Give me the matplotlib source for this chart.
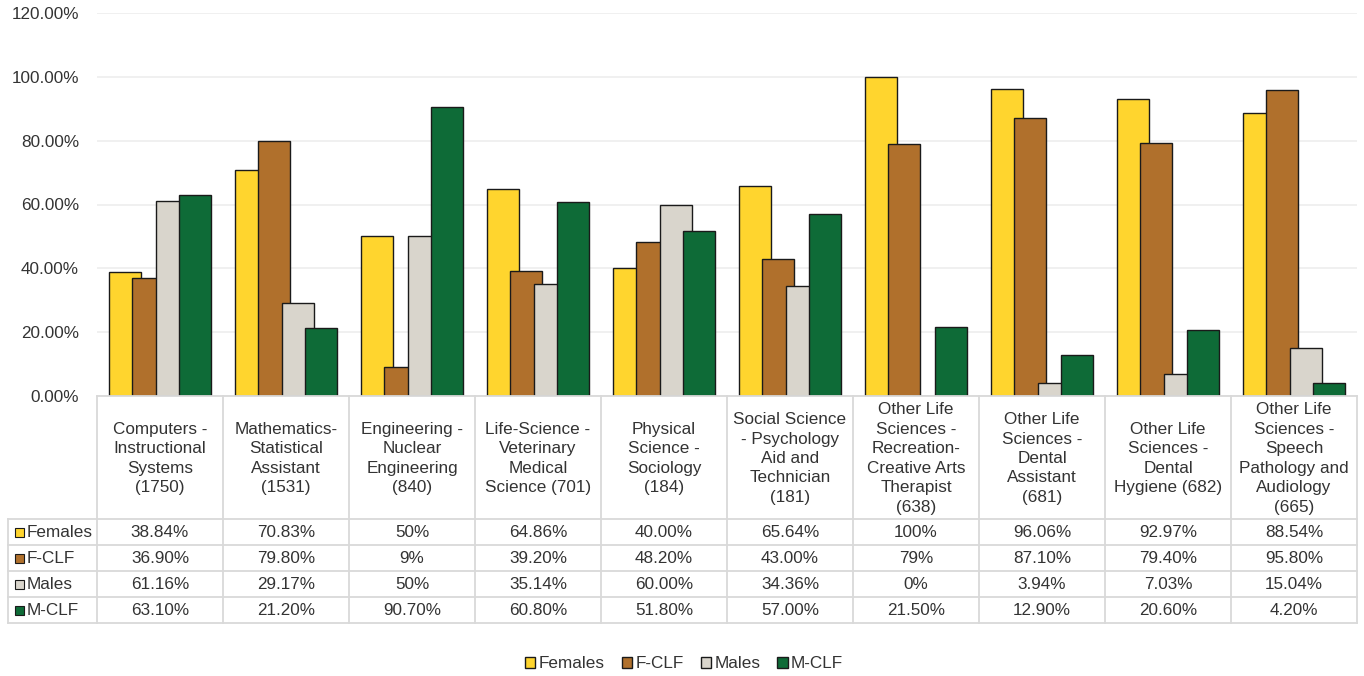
import matplotlib
matplotlib.use('Agg')
import matplotlib.pyplot as plt
from matplotlib.patches import Rectangle
import numpy as np

plt.rcParams['font.family'] = ['Liberation Sans', 'DejaVu Sans']

# categories (column headers of the data table)
categories = [
    'Computers -\nInstructional\nSystems\n(1750)',
    'Mathematics-\nStatistical\nAssistant\n(1531)',
    'Engineering -\nNuclear\nEngineering\n(840)',
    'Life-Science -\nVeterinary\nMedical\nScience (701)',
    'Physical\nScience -\nSociology\n(184)',
    'Social Science\n- Psychology\nAid and\nTechnician\n(181)',
    'Other Life\nSciences -\nRecreation-\nCreative Arts\nTherapist\n(638)',
    'Other Life\nSciences -\nDental\nAssistant\n(681)',
    'Other Life\nSciences -\nDental\nHygiene (682)',
    'Other Life\nSciences -\nSpeech\nPathology and\nAudiology\n(665)',
]

series_names = ['Females', 'F-CLF', 'Males', 'M-CLF']
series_colors = ['#FFD52E', '#B0702C', '#D9D5CC', '#0E6B37']

females = [38.84, 70.83, 50, 64.86, 40.00, 65.64, 100, 96.06, 92.97, 88.54]
f_clf = [36.90, 79.80, 9, 39.20, 48.20, 43.00, 79, 87.10, 79.40, 95.80]
males = [61.16, 29.17, 50, 35.14, 60.00, 34.36, 0, 3.94, 7.03, 15.04]
m_clf = [63.10, 21.20, 90.70, 60.80, 51.80, 57.00, 21.50, 12.90, 20.60, 4.20]

# table cell text as printed
females_lbl = ['38.84%', '70.83%', '50%', '64.86%', '40.00%', '65.64%', '100%', '96.06%', '92.97%', '88.54%']
f_clf_lbl = ['36.90%', '79.80%', '9%', '39.20%', '48.20%', '43.00%', '79%', '87.10%', '79.40%', '95.80%']
males_lbl = ['61.16%', '29.17%', '50%', '35.14%', '60.00%', '34.36%', '0%', '3.94%', '7.03%', '15.04%']
m_clf_lbl = ['63.10%', '21.20%', '90.70%', '60.80%', '51.80%', '57.00%', '21.50%', '12.90%', '20.60%', '4.20%']

values = [females, f_clf, males, m_clf]
labels = [females_lbl, f_clf_lbl, males_lbl, m_clf_lbl]

W, H = 1364, 676
txt = '#333333'
grid = '#d9d9d9'
fs = 12.3

fig = plt.figure(figsize=(W / 100, H / 100), dpi=100)

# main bar chart
ax = fig.add_axes([97 / W, (H - 396) / H, 1260 / W, 383 / H])
x = np.arange(len(categories))
bw = 0.254
step = 0.183
for k, (vals, name, col) in enumerate(zip(values, series_names, series_colors)):
    ax.bar(x + (k - 1.5) * step, np.array(vals) / 100, width=bw, color=col,
           edgecolor='#1a1a1a', linewidth=1.0, label=name, zorder=3 + k)
ax.set_xlim(-0.5, len(categories) - 0.5)
ax.set_ylim(0, 1.2)
ax.set_yticks(np.arange(0, 1.21, 0.2))
ax.set_yticklabels([f'{v * 100:.2f}%' for v in np.arange(0, 1.21, 0.2)])
ax.set_xticks([])
ax.tick_params(axis='y', length=0, labelsize=fs, labelcolor=txt, pad=13)
ax.grid(axis='y', color='#ededed', linewidth=1.2, zorder=0)
for s in ax.spines.values():
    s.set_visible(False)

# data table below the plot
tab_left = 8
unit = 1260 / len(categories)
x0 = -0.5 - (97 - tab_left) / unit
tax = fig.add_axes([tab_left / W, (H - 623) / H, (1357 - tab_left) / W, 227 / H])
tax.set_xlim(x0, len(categories) - 0.5)
tax.set_ylim(227, 0)
tax.axis('off')

header_h = 123
row_h = 26
lw = 1.3
# horizontal lines
tax.plot([-0.5, len(categories) - 0.5], [0, 0], color=grid, lw=lw, clip_on=False)
for r in range(5):
    yy = header_h + r * row_h
    tax.plot([x0, len(categories) - 0.5], [yy, yy], color=grid, lw=lw, clip_on=False)
# vertical lines
tax.plot([x0, x0], [header_h, 227], color=grid, lw=lw, clip_on=False)
for b in np.arange(-0.5, len(categories), 1.0):
    tax.plot([b, b], [0, 227], color=grid, lw=lw, clip_on=False)

for i, cat in enumerate(categories):
    tax.text(i, header_h / 2 + 1, cat, ha='center', va='center', fontsize=fs,
             color=txt, linespacing=1.37)

for r, (name, col, lbls) in enumerate(zip(series_names, series_colors, labels)):
    yc = header_h + r * row_h + row_h / 2
    sq = 9 / unit
    tax.add_patch(Rectangle((x0 + 7 / unit, yc - 4.5), sq, 9, facecolor=col,
                            edgecolor='#1a1a1a', lw=0.8, clip_on=False))
    tax.text(x0 + 19 / unit, yc + 0.5, name, ha='left', va='center', fontsize=fs, color=txt)
    for i, lb in enumerate(lbls):
        tax.text(i, yc + 0.5, lb, ha='center', va='center', fontsize=fs, color=txt)

# legend
handles, names = ax.get_legend_handles_labels()
fig.legend(handles, names, loc='center', bbox_to_anchor=(684 / W, (H - 664) / H),
           ncol=4, frameon=False, fontsize=fs, handlelength=0.6, handleheight=0.6,
           handletextpad=0.2, columnspacing=1.0, labelcolor=txt)

fig.savefig('out.png', dpi=100)
